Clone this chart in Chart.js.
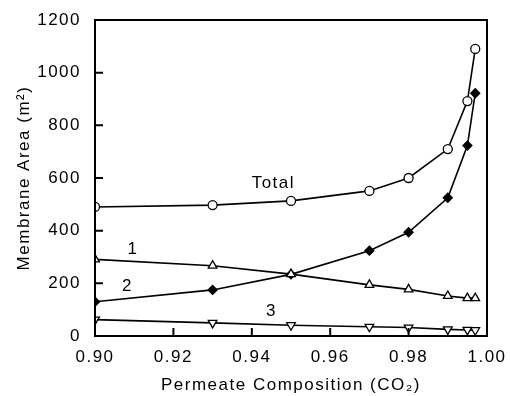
<!DOCTYPE html>
<html>
<head>
<meta charset="utf-8">
<script src="https://cdn.jsdelivr.net/npm/chart.js@4/dist/chart.umd.min.js"></script>
<style>
  html, body { margin: 0; padding: 0; background: #fff; }
  #wrap { width: 510px; height: 396px; }
</style>
</head>
<body>
<div id="wrap"><canvas id="c"></canvas></div>
<script>
// Permeate CO2 mole fraction for each calculated case
const composition = [0.90, 0.93, 0.95, 0.97, 0.98, 0.99, 0.995, 0.997];

// Membrane area per stage and total (m2)
const areaTotal  = [490, 497, 513, 551, 600, 710, 892, 1090];
const areaStage1 = [291, 267, 235, 194, 177, 152, 144, 144];
const areaStage2 = [130, 175, 234, 324, 394, 525, 723, 922];
const areaStage3 = [62, 50, 41, 35, 32, 25, 23, 22];

const yTicks = [0, 200, 400, 600, 800, 1000, 1200];
const xTicks = [0.90, 0.92, 0.94, 0.96, 0.98, 1.00];

// Curve labels, positioned in data units
const curveLabels = [
  { text: 'Total', x: 0.9455, y: 580 },
  { text: '1', x: 0.9097, y: 330 },
  { text: '2', x: 0.9083, y: 190 },
  { text: '3', x: 0.9450, y: 92 }
];

const FONT = '"Liberation Sans", Arial, Helvetica, sans-serif';

function pts(ys) { return composition.map((x, i) => ({ x: x, y: ys[i] })); }

// slightly tracked lettering for all canvas text
const spacing = {
  id: 'spacing',
  beforeUpdate(chart) { chart.ctx.letterSpacing = '1.5px'; },
  beforeDraw(chart) { chart.ctx.letterSpacing = '1.5px'; }
};

const frame = {
  id: 'frame',
  afterDraw(chart) {
    const { ctx, chartArea: a, scales } = chart;
    ctx.save();
    ctx.strokeStyle = '#000';
    ctx.lineWidth = 2;
    ctx.strokeRect(a.left, a.top, a.right - a.left, a.bottom - a.top);
    // inward tick marks
    ctx.beginPath();
    yTicks.forEach(v => {
      const y = scales.y.getPixelForValue(v);
      if (v > 0 && v < 1200) { ctx.moveTo(a.left, y); ctx.lineTo(a.left + 8, y); }
    });
    xTicks.forEach(v => {
      const x = scales.x.getPixelForValue(v);
      if (v > 0.9 && v < 1.0) { ctx.moveTo(x, a.bottom); ctx.lineTo(x, a.bottom - 8); }
    });
    ctx.stroke();
    // curve labels
    ctx.fillStyle = '#000';
    ctx.font = '17px ' + FONT;
    ctx.textAlign = 'center';
    ctx.textBaseline = 'middle';
    curveLabels.forEach(l => {
      ctx.fillText(l.text, scales.x.getPixelForValue(l.x), scales.y.getPixelForValue(l.y));
    });
    ctx.restore();
  }
};

const lineStyle = { borderColor: '#000', borderWidth: 1.6, showLine: true, tension: 0, pointBorderColor: '#000', pointBorderWidth: 1.3 };

new Chart(document.getElementById('c'), {
  type: 'scatter',
  data: {
    datasets: [
      Object.assign({ label: 'Total', data: pts(areaTotal), pointStyle: 'circle', pointRadius: 4.5, pointBackgroundColor: '#fff' }, lineStyle),
      Object.assign({ label: '1', data: pts(areaStage1), pointStyle: 'triangle', pointRadius: 5, pointBackgroundColor: '#fff' }, lineStyle),
      Object.assign({ label: '2', data: pts(areaStage2), pointStyle: 'rectRot', pointRadius: 4.5, pointBackgroundColor: '#000' }, lineStyle),
      Object.assign({ label: '3', data: pts(areaStage3), pointStyle: 'triangle', pointRotation: 180, pointRadius: 5, pointBackgroundColor: '#fff' }, lineStyle)
    ]
  },
  options: {
    responsive: true,
    maintainAspectRatio: false,
    animation: false,
    layout: { padding: { top: 20, right: 23, left: 0, bottom: 0 } },
    plugins: { legend: { display: false }, tooltip: { enabled: false } },
    scales: {
      x: {
        type: 'linear', min: 0.9, max: 1.0,
        afterBuildTicks: s => { s.ticks = xTicks.map(v => ({ value: v })); },
        afterFit: s => { s.height = 60; },
        grid: { display: false },
        border: { display: false },
        ticks: { color: '#000', font: { family: FONT, size: 17 }, padding: 3, maxRotation: 0,
                 callback: v => Number(v).toFixed(2) },
        title: { display: true, text: 'Permeate Composition (CO\u2082)', color: '#000',
                 font: { family: FONT, size: 17 }, padding: { top: 10, bottom: 0 } }
      },
      y: {
        type: 'linear', min: 0, max: 1200,
        afterBuildTicks: s => { s.ticks = yTicks.map(v => ({ value: v })); },
        afterFit: s => { s.width = 95; },
        grid: { display: false },
        border: { display: false },
        ticks: { color: '#000', font: { family: FONT, size: 17 }, padding: 6,
                 callback: v => String(v) },
        title: { display: true, text: 'Membrane Area (m\u00B2)', color: '#000',
                 font: { family: FONT, size: 17 }, padding: { top: 14, bottom: 0 } }
      }
    }
  },
  plugins: [spacing, frame]
});
</script>
</body>
</html>
